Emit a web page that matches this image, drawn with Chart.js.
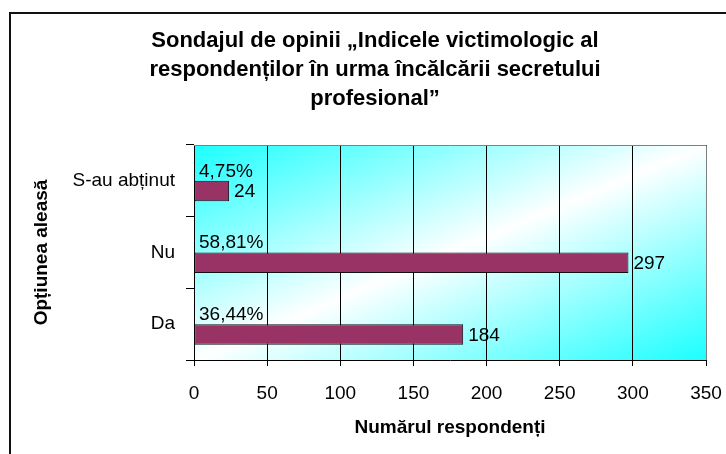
<!DOCTYPE html>
<html>
<head>
<meta charset="utf-8">
<script src="https://cdn.jsdelivr.net/npm/chart.js@4/dist/chart.umd.min.js"></script>
<style>
  html, body { margin: 0; padding: 0; background: #fff; }
  #wrap { width: 726px; height: 454px; }
</style>
</head>
<body>
<div id="wrap"><canvas id="chart" width="726" height="454"></canvas></div>
<script>
// Chart data
const titleLines = [
    'Sondajul de opinii \u201EIndicele victimologic al',
    'responden\u021Bilor \u00EEn urma \u00EEnc\u0103lc\u0103rii secretului',
    'profesional\u201D'
];
const categories = ['S-au ab\u021Binut', 'Nu', 'Da'];
const respondents = [24, 297, 184];
const percentages = [4.75, 58.81, 36.44];
const xTicks = [0, 50, 100, 150, 200, 250, 300, 350];
const xTitle = 'Num\u0103rul responden\u021Bi';
const yTitle = 'Op\u021Biunea aleas\u0103';

const FONT = "'Liberation Sans', Arial, sans-serif";

// Frame, plot gradient, title and value labels
const decorations = {
    id: 'decorations',
    beforeDraw(chart) {
        const ctx = chart.ctx;
        const a = chart.chartArea;
        ctx.save();
        ctx.fillStyle = '#fff';
        ctx.fillRect(0, 0, chart.width, chart.height);
        ctx.fillStyle = '#111';
        ctx.fillRect(9, 12, 2, chart.height);
        ctx.fillRect(9, 12, chart.width, 2);

        // diagonal gradient stretched over the plot area
        ctx.translate(a.left, a.top);
        ctx.scale(a.right - a.left, a.bottom - a.top);
        const g = ctx.createLinearGradient(0, 0, 1, 1);
        g.addColorStop(0, '#1cffff');
        g.addColorStop(0.5, '#ffffff');
        g.addColorStop(1, '#1cffff');
        ctx.fillStyle = g;
        ctx.fillRect(0, 0, 1, 1);
        ctx.restore();
    },
    afterDraw(chart) {
        const ctx = chart.ctx;
        const a = chart.chartArea;
        ctx.save();

        // gray top / right border of the plot
        ctx.strokeStyle = '#808080';
        ctx.lineWidth = 1;
        ctx.beginPath();
        ctx.moveTo(a.left, a.top + 0.5);
        ctx.lineTo(a.right + 0.5, a.top + 0.5);
        ctx.lineTo(a.right + 0.5, a.bottom);
        ctx.stroke();

        // title
        ctx.fillStyle = '#000';
        ctx.textAlign = 'center';
        ctx.textBaseline = 'alphabetic';
        ctx.font = 'bold 22px ' + FONT;
        titleLines.forEach((line, i) => ctx.fillText(line, 375, 47 + i * 29));

        // percentage labels (hidden series) and counts
        ctx.font = '19px ' + FONT;
        ctx.textAlign = 'left';
        ctx.textBaseline = 'middle';
        chart.getDatasetMeta(0).data.forEach((bar, i) => {
            const txt = percentages[i].toFixed(2).replace('.', ',') + '%';
            ctx.fillText(txt, a.left + 5, bar.y + 1);
        });
        chart.getDatasetMeta(1).data.forEach((bar, i) => {
            ctx.fillText(String(respondents[i]), bar.x + 5, bar.y + 1);
        });
        ctx.restore();
    }
};

const ctx = document.getElementById('chart').getContext('2d');
const chart = new Chart(ctx, {
    type: 'bar',
    data: {
        labels: categories,
        datasets: [{
            label: 'Procent',
            data: percentages,
            backgroundColor: 'rgba(0,0,0,0)',
            borderWidth: 0,
            categoryPercentage: 0.572,
            barPercentage: 1
        }, {
            label: 'Responden\u021Bi',
            data: respondents,
            backgroundColor: '#993366',
            borderColor: '#111',
            borderWidth: 1,
            borderSkipped: false,
            categoryPercentage: 0.572,
            barPercentage: 1
        }]
    },
    options: {
        indexAxis: 'y',
        responsive: false,
        animation: false,
        layout: { padding: { top: 145, right: 20, left: 0, bottom: 0 } },
        plugins: {
            legend: { display: false },
            tooltip: { enabled: false },
            title: { display: false }
        },
        scales: {
            x: {
                position: 'bottom',
                min: 0,
                max: 350,
                afterBuildTicks: scale => { scale.ticks = xTicks.map(v => ({ value: v })); },
                afterFit: scale => {
                    scale.height = 94;
                    scale.paddingLeft = 0;
                    scale.paddingRight = 0;
                },
                grid: { color: '#000', lineWidth: 1, tickLength: 6 },
                border: { color: '#000', width: 1 },
                ticks: { color: '#000', padding: 16, font: { family: FONT, size: 19 } },
                title: {
                    display: true,
                    text: xTitle,
                    color: '#000',
                    font: { family: FONT, size: 19, weight: 'bold' },
                    padding: { top: 0, bottom: 15 }
                }
            },
            y: {
                afterFit: scale => { scale.width = 194; },
                grid: { drawOnChartArea: false, color: '#000', tickLength: 8, offset: true },
                border: { color: '#000', width: 1 },
                ticks: { color: '#000', padding: 11, font: { family: FONT, size: 19 } },
                title: {
                    display: true,
                    text: yTitle,
                    color: '#000',
                    font: { family: FONT, size: 19, weight: 'bold' },
                    padding: { top: 30, bottom: 0 }
                }
            }
        }
    },
    plugins: [decorations]
});
</script>
</body>
</html>
